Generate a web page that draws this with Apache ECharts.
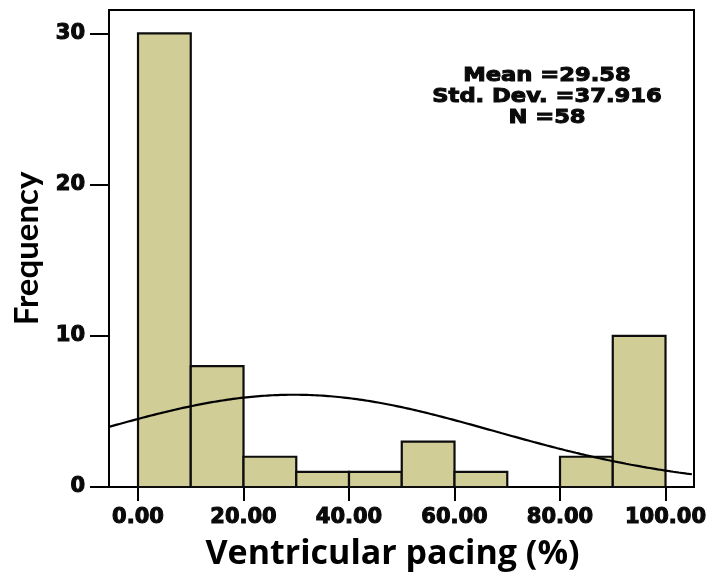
<!DOCTYPE html>
<html>
<head>
<meta charset="utf-8">
<script src="https://cdn.jsdelivr.net/npm/echarts@6/dist/echarts.min.js"></script>
<style>
  html, body { margin: 0; padding: 0; background: #fff; }
  #chart { width: 710px; height: 579px; }
</style>
</head>
<body>
<div id="chart"></div>
<script>
// Histogram of ventricular pacing (%) with fitted normal curve
const binStarts = [0, 10, 20, 30, 40, 50, 60, 70, 80, 90];
const binWidth = 10;
const counts = [30, 8, 2, 1, 1, 3, 1, 0, 2, 10];
const xTicks = [0, 20, 40, 60, 80, 100];
const yTicks = [0, 10, 20, 30];
const meanValue = 29.58;
const sdValue = 37.916;
const nValue = 58;

const X_MIN = -5.5, X_MAX = 105.4;
const Y_MIN = 0, Y_MAX = 31.55;

// bins as [start, end, count]
const binData = binStarts.map((s, i) => [s, s + binWidth, counts[i]]);

// normal curve scaled to frequency (N * bin width * density)
const curveData = [];
for (let x = X_MIN; x <= X_MAX + 1e-9; x += 0.5) {
  const z = (x - meanValue) / sdValue;
  const y = nValue * binWidth / (sdValue * Math.sqrt(2 * Math.PI)) * Math.exp(-0.5 * z * z);
  curveData.push([x, y]);
}

const tickFont = {
  fontFamily: 'DejaVu Sans',
  fontWeight: 'bold',
  fontSize: 21,
  color: '#0a0a0a',
  textBorderColor: '#0a0a0a',
  textBorderWidth: 1.1
};

const chart = echarts.init(document.getElementById('chart'), null, { renderer: 'canvas' });
chart.setOption({
  animation: false,
  backgroundColor: '#fff',
  grid: {
    left: 109, right: 16, top: 10, bottom: 92,
    show: true, borderColor: '#000', borderWidth: 2,
    outerBoundsMode: 'none'
  },
  xAxis: {
    type: 'value',
    min: X_MIN, max: X_MAX,
    name: 'Ventricular pacing (%)',
    nameLocation: 'middle',
    nameGap: 50,
    nameTextStyle: {
      fontFamily: 'Open Sans', fontWeight: 'bold', fontSize: 34, color: '#000',
      padding: [0, 18, 0, 0]
    },
    axisLine: { show: true, onZero: false, lineStyle: { color: '#000', width: 2 } },
    axisTick: { show: true, inside: false, length: 14, lineStyle: { color: '#000', width: 2 }, customValues: xTicks },
    axisLabel: Object.assign({ margin: 20, customValues: xTicks, formatter: v => v.toFixed(2) }, tickFont),
    splitLine: { show: false }
  },
  yAxis: {
    type: 'value',
    min: Y_MIN, max: Y_MAX,
    name: 'Frequency',
    nameLocation: 'middle',
    nameRotate: 90,
    nameGap: 58,
    nameTextStyle: { fontFamily: 'Lato', fontWeight: 'bold', fontSize: 33, color: '#000' },
    axisLine: { show: true, onZero: false, lineStyle: { color: '#000', width: 2 } },
    axisTick: { show: true, inside: false, length: 19, lineStyle: { color: '#000', width: 2 }, customValues: yTicks },
    axisLabel: Object.assign({ margin: 24, customValues: yTicks }, tickFont),
    splitLine: { show: false }
  },
  series: [
    {
      type: 'custom',
      data: binData,
      encode: { x: [0, 1], y: 2 },
      renderItem: function (params, api) {
        const x0 = api.value(0), x1 = api.value(1), c = api.value(2);
        if (!c) return null;
        const p0 = api.coord([x0, c]);
        const p1 = api.coord([x1, 0]);
        return {
          type: 'rect',
          shape: { x: p0[0], y: p0[1], width: p1[0] - p0[0], height: p1[1] - p0[1] },
          style: { fill: '#d1cd97', stroke: '#0d0d0d', lineWidth: 2.2 }
        };
      },
      z: 2
    },
    {
      type: 'line',
      data: curveData,
      showSymbol: false,
      symbol: 'none',
      smooth: false,
      lineStyle: { color: '#000', width: 2.2 },
      z: 3
    }
  ],
  graphic: [
    {
      type: 'text',
      x: 547, y: 97,
      scaleX: 1.19,
      style: {
        text: 'Mean =' + meanValue.toFixed(2) + '\nStd. Dev. =' + sdValue.toFixed(3) + '\nN =' + nValue,
        align: 'center',
        verticalAlign: 'middle',
        fontFamily: 'DejaVu Sans',
        fontWeight: 'bold',
        fontSize: 19,
        lineHeight: 21,
        fill: '#0a0a0a',
        stroke: '#0a0a0a',
        lineWidth: 1
      },
      z: 10
    }
  ]
});
</script>
</body>
</html>
